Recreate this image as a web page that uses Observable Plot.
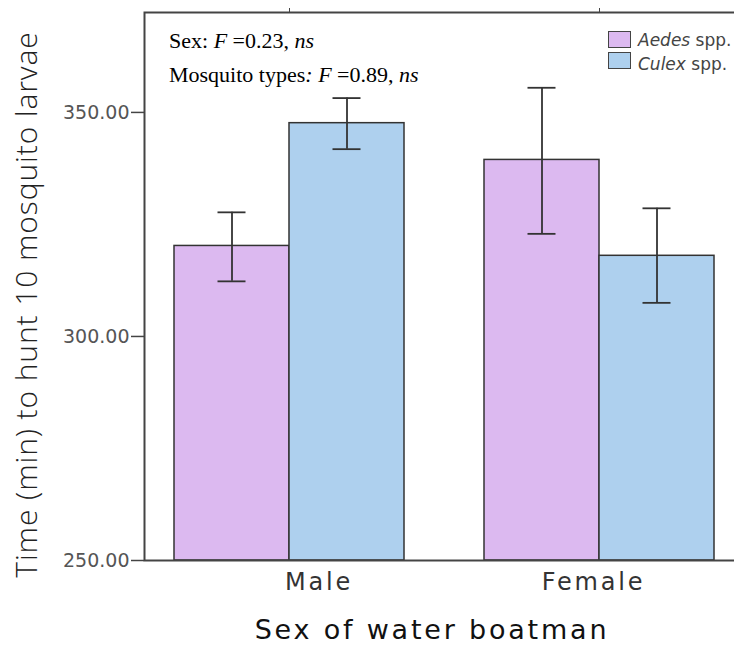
<!DOCTYPE html>
<html>
<head>
<meta charset="utf-8">
<script src="https://cdn.jsdelivr.net/npm/d3@7"></script>
<script src="https://cdn.jsdelivr.net/npm/@observablehq/plot@0.6"></script>
<style>
  body { margin: 0; background: #fff; }
  #wrap { position: relative; width: 734px; height: 646px; overflow: hidden; background: #fff; }
  #wrap svg { overflow: hidden; }
  .stats { position: absolute; left: 169px; font-family: "Liberation Serif", "Times New Roman", serif; font-size: 22px; line-height: 22px; color: #000; white-space: nowrap; }
  .stats i { font-style: italic; }
  .key { position: absolute; left: 608px; font-family: "DejaVu Sans", sans-serif; font-size: 17px; line-height: 17px; color: #444; white-space: nowrap; }
  .key .sw { position: absolute; left: 0; width: 23px; height: 17px; box-sizing: border-box; border: 1.5px solid #444; }
  .key .lb { position: absolute; left: 30px; }
</style>
</head>
<body>
<div id="wrap">
  <div class="stats" style="top:30px">Sex: <i>F</i> =0.23, <i>ns</i></div>
  <div class="stats" style="top:64px">Mosquito types<i>:</i> <i>F</i> =0.89, <i>ns</i></div>
  <div class="key" style="top:31px"><span class="sw" style="background:#dcb9f0;top:0"></span><span class="lb" style="top:1px"><i>Aedes</i> spp.</span></div>
  <div class="key" style="top:52px"><span class="sw" style="background:#aed0ee;top:0"></span><span class="lb" style="top:4px"><i>Culex</i> spp.</span></div>
</div>
<script>
// Sex of water boatman (groups) and mosquito prey type (bars within a group)
const sexes = ["Male", "Female"];
const species = ["Aedes", "Culex"];
const speciesColors = ["#dcb9f0", "#aed0ee"];

// Mean hunting time (min) with error-bar bounds, one value per sex
const aedesMean = [320.2, 339.4];
const aedesLow  = [312.3, 322.9];
const aedesHigh = [327.7, 355.5];
const culexMean = [347.6, 318.0];
const culexLow  = [341.8, 307.5];
const culexHigh = [353.2, 328.6];

const yTicks = [250, 300, 350];
const yTitle = "Time (min) to hunt 10 mosquito larvae";
const xTitle = "Sex of water boatman";

const rows = [];
sexes.forEach((sex, i) => {
  rows.push({sex, species: "Aedes", mean: aedesMean[i], low: aedesLow[i], high: aedesHigh[i]});
  rows.push({sex, species: "Culex", mean: culexMean[i], low: culexLow[i], high: culexHigh[i]});
});

const ink = "#333";
const sansFont = "DejaVu Sans, sans-serif";

const chart = Plot.plot({
  width: 734,
  height: 646,
  marginLeft: 143,
  marginRight: -11,
  marginTop: 12,
  marginBottom: 86,
  style: {background: "#fff", fontFamily: sansFont},
  fx: {domain: sexes, paddingInner: 0.0643, paddingOuter: 0, axis: null},
  x: {domain: species, paddingInner: 0, paddingOuter: 0.2597, axis: null},
  y: {domain: [250, 372.3]},
  color: {domain: species, range: speciesColors},
  marks: [
    Plot.barY(rows, {fx: "sex", x: "species", y1: 250, y2: "mean", fill: "species", stroke: ink, strokeWidth: 1.5}),
    Plot.ruleX(rows, {fx: "sex", x: "species", y1: "low", y2: "high", stroke: ink, strokeWidth: 1.8}),
    Plot.tickY(rows, {fx: "sex", x: "species", y: "high", stroke: ink, strokeWidth: 1.8, insetLeft: 43.5, insetRight: 43.5}),
    Plot.tickY(rows, {fx: "sex", x: "species", y: "low", stroke: ink, strokeWidth: 1.8, insetLeft: 43.5, insetRight: 43.5}),
    Plot.frame({facet: "super", stroke: "#444", strokeWidth: 2}),
    Plot.axisY({ticks: yTicks, tickFormat: d => d.toFixed(2), tickSize: 13, tickPadding: 2, fontSize: 19, fill: "#555", stroke: "#444", strokeWidth: 1.5, label: null}),
    Plot.axisFx({tickSize: 5, tickFormat: () => "", label: null, stroke: "#444"}),
    Plot.text(["Male"], {fx: d => d, text: d => d, frameAnchor: "bottom", dy: 29, dx: 29.5, fontSize: 24, fill: "#333"}),
    Plot.text(["Female"], {fx: d => d, text: d => d, frameAnchor: "bottom", dy: 29, dx: -6, fontSize: 24, fill: "#333"}),
    Plot.text([xTitle], {facet: "super", text: d => d, frameAnchor: "bottom", dy: 78, dx: -12.5, fontSize: 27, fill: "#111"}),
    Plot.text([yTitle], {facet: "super", text: d => d, frameAnchor: "left", textAnchor: "middle", rotate: -90, dx: -117, dy: 18, fontSize: 30, fontFamily: "Open Sans, sans-serif", fontWeight: 300, fill: "#222"})
  ]
});

const svg = d3.select(chart);
svg.selectAll("text")
  .filter(function () { return ["Male", "Female", xTitle].includes(this.textContent); })
  .style("letter-spacing", "2.8px");
svg.selectAll("text")
  .filter(function () { return this.textContent === yTitle; })
  .style("letter-spacing", "0.9px");

document.getElementById("wrap").prepend(chart);
</script>
</body>
</html>
